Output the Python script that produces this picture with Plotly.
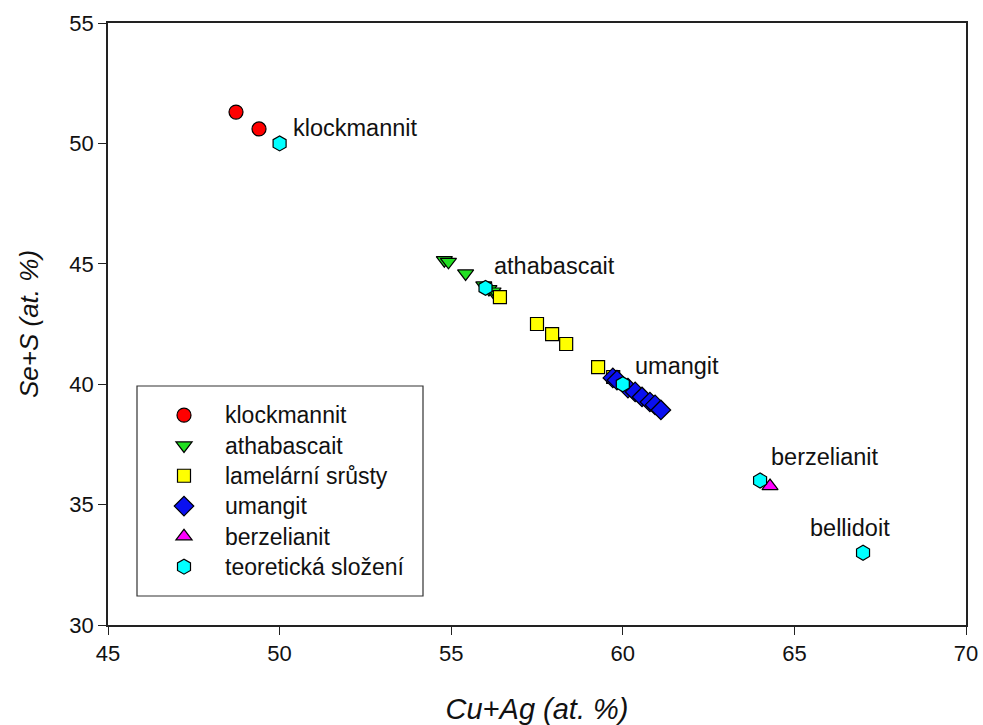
import plotly.graph_objects as go

# ---- data ----
klock_x = [48.73, 49.40]
klock_y = [51.30, 50.60]

atha_x = [54.80, 54.92, 55.42, 55.95, 56.10, 56.22, 56.35]
atha_y = [45.15, 45.08, 44.60, 44.10, 43.95, 43.85, 43.72]

lam_x = [56.42, 57.50, 57.94, 58.35, 59.28, 59.72]
lam_y = [43.62, 42.50, 42.08, 41.67, 40.71, 40.30]

uman_x = [59.71, 59.83, 60.15, 60.36, 60.56, 60.79, 60.94, 61.11]
uman_y = [40.26, 40.17, 39.84, 39.68, 39.47, 39.26, 39.14, 38.93]

berz_x = [64.29]
berz_y = [35.77]

teor_x = [50.0, 56.0, 60.0, 64.0, 67.0]
teor_y = [50.0, 44.0, 40.0, 36.0, 33.0]

series_names = ["klockmannit", "athabascait", "lamelární srůsty",
                "umangit", "berzelianit", "teoretická složení"]

label_text = ["klockmannit", "athabascait", "umangit", "berzelianit", "bellidoit"]
label_x = [50.33, 56.19, 60.30, 64.26, 65.40]
label_y = [50.65, 44.90, 40.76, 36.98, 34.03]

x_ticks = [45, 50, 55, 60, 65, 70]
y_ticks = [30, 35, 40, 45, 50, 55]

# ---- figure ----
FONT = "Arial, Liberation Sans, sans-serif"
line = dict(color="black", width=1.2)

fig = go.Figure()
specs = [
    (klock_x, klock_y, "circle", "#FF0000", 14),
    (atha_x, atha_y, "triangle-down", "#22E022", 14),
    (lam_x, lam_y, "square", "#FFFF00", 13),
    (uman_x, uman_y, "diamond", "#0A10F0", 15),
    (berz_x, berz_y, "triangle-up", "#FF00FF", 14),
    (teor_x, teor_y, "hexagon", "#00FFFF", 15),
]
for (xs, ys, sym, col, sz), name in zip(specs, series_names):
    fig.add_trace(go.Scatter(
        x=xs, y=ys, mode="markers", name=f'<span style="font-size:23px">{name}</span>',
        legendgroup=name,
        marker=dict(symbol=sym, color=col, size=sz, line=line),
    ))

for t, x, y in zip(label_text, label_x, label_y):
    fig.add_annotation(x=x, y=y, text=t, showarrow=False, xanchor="left",
                       yanchor="middle", font=dict(family=FONT, size=23.5, color="#111"))

# legend frame
fig.add_shape(type="rect", xref="paper", yref="paper",
              x0=(137 - 108) / 858, x1=(423 - 108) / 858,
              y0=(625 - 596) / 602, y1=(625 - 386) / 602,
              line=dict(color="#333", width=1.2), fillcolor="rgba(0,0,0,0)")

axis_common = dict(
    showline=True, linecolor="#222", linewidth=1.5, mirror=True,
    ticks="outside", ticklen=8, tickcolor="#222", tickwidth=1.2,
    showgrid=False, zeroline=False, automargin=False,
    tickfont=dict(family=FONT, size=22, color="#111"),
)

fig.update_layout(
    width=983, height=725,
    margin=dict(l=108, r=17, t=23, b=100, autoexpand=False),
    paper_bgcolor="white", plot_bgcolor="white",
    font=dict(family=FONT),
    xaxis=dict(range=[45, 70], tickvals=x_ticks,
               title=dict(text="<i>Cu+Ag (at. %)</i>", font=dict(family=FONT, size=29, color="#111"),
                          standoff=34),
               **axis_common),
    yaxis=dict(range=[30, 55], tickvals=y_ticks,
               title=dict(text="<i>Se+S (at. %)</i>", font=dict(family=FONT, size=26, color="#111"),
                          standoff=23),
               **axis_common),
    legend=dict(x=(143 - 108) / 858, y=(625 - 395) / 602, xanchor="left", yanchor="top",
                bgcolor="rgba(0,0,0,0)", borderwidth=0,
                font=dict(family=FONT, size=21, color="#111"),
                itemwidth=72, tracegroupgap=0),
)

fig.write_html("out.html", config={"displayModeBar": False},
               post_script="document.body.style.margin='0';")
